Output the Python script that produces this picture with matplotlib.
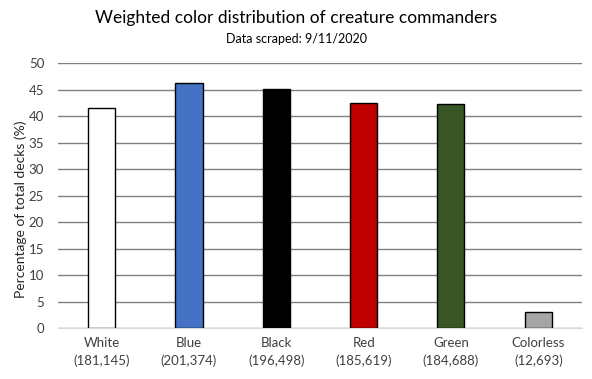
import matplotlib.pyplot as plt

categories = ["White\n(181,145)", "Blue\n(201,374)", "Black\n(196,498)",
              "Red\n(185,619)", "Green\n(184,688)", "Colorless\n(12,693)"]
values = [41.5, 46.2, 45.1, 42.6, 42.4, 3.0]
colors = ["#ffffff", "#4472c4", "#000000", "#c00000", "#375623", "#a5a5a5"]

plt.rcParams['font.family'] = ['Lato', 'DejaVu Sans']

fig = plt.figure(figsize=(5.92, 3.79), dpi=100)
ax = fig.add_axes([0.098, 0.134, 0.885, 0.699])

x = range(len(values))
ax.bar(x, values, width=0.31, color=colors, edgecolor="black", linewidth=1.0, zorder=3)

ax.set_ylim(0, 50)
ax.set_xlim(-0.5, len(values) - 0.5)
ax.set_yticks(range(0, 51, 5))
ax.yaxis.grid(True, color="#808080", linewidth=1.0, zorder=0)
ax.set_xticks(list(x))
ax.set_xticklabels(categories, linespacing=1.55)
ax.tick_params(length=0, labelsize=9.5, colors="#404040", pad=6)
ax.tick_params(axis="y", pad=10)
for s in ["top", "right", "left"]:
    ax.spines[s].set_visible(False)
ax.spines["bottom"].set_color("#d9d9d9")

ax.set_ylabel("Percentage of total decks (%)", fontsize=10, color="#262626")
ax.yaxis.set_label_coords(-0.06, 0.45)

fig.text(0.5, 0.952, "Weighted color distribution of creature commanders",
         ha="center", va="center", fontsize=12.5)
fig.text(0.5, 0.897, "Data scraped: 9/11/2020", ha="center", va="center", fontsize=9)

fig.savefig("out.png", dpi=100)
